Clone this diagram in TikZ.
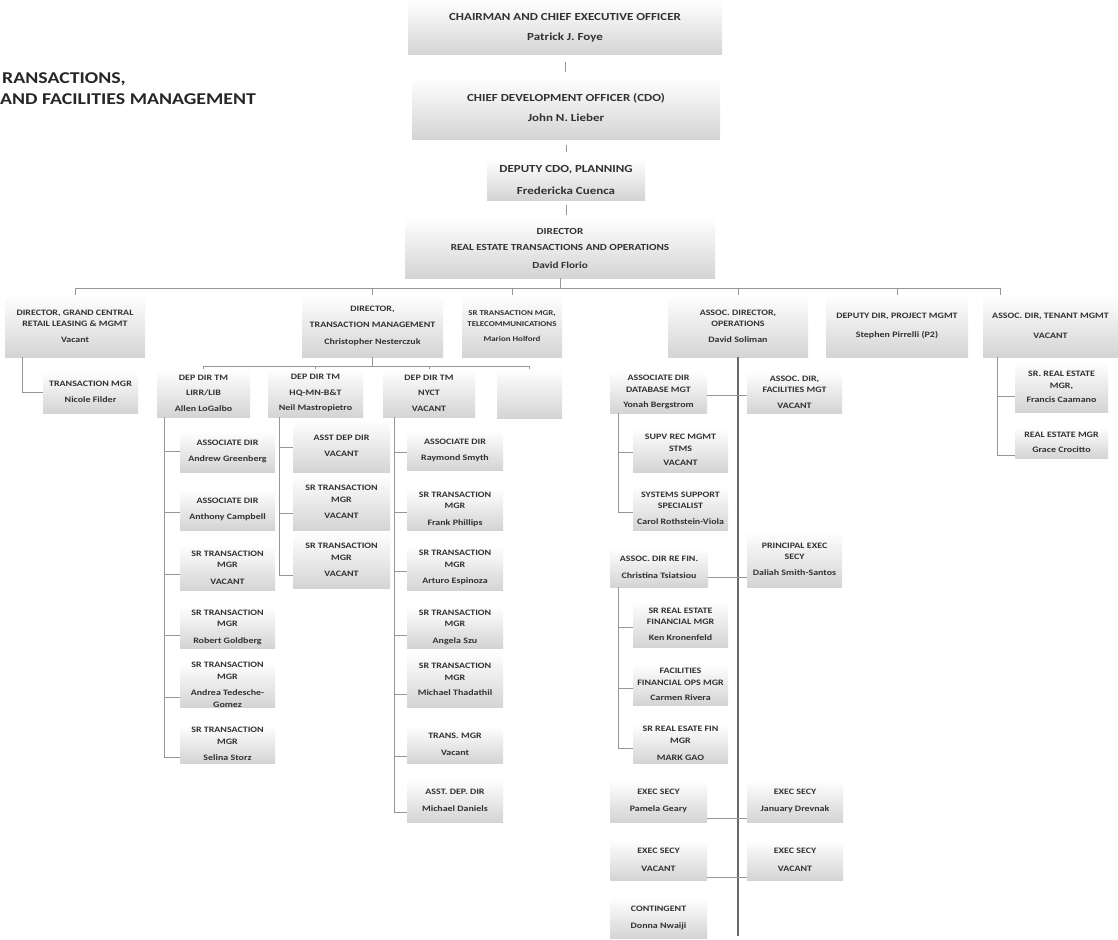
\documentclass[tikz,border=0pt]{standalone}
\usepackage{fontspec}
\setmainfont{Carlito}[FakeStretch=1.2]
\usetikzlibrary{calc}
\definecolor{boxg}{RGB}{212,212,212}
\definecolor{linec}{RGB}{150,150,150}
\definecolor{txtc}{RGB}{50,50,50}
\definecolor{mainl}{RGB}{105,105,105}
\newcommand\orgbox[7]{%
  \node[bx,#6,minimum width={(#3-#2)*1pt},minimum height={(#5-#4)*1pt}] (#1) at ({(#2+#3)/2},{(#4+#5)/2}) {#7};}
\tikzset{
  bx/.style={shading=axis, top color=white, bottom color=boxg, inner sep=0pt, align=center,
    text=txtc, font=\bfseries\fontsize{8.3}{11.5}\selectfont},
  big/.style={font=\bfseries\fontsize{10.8}{13}\selectfont},
  mid/.style={font=\bfseries\fontsize{9.3}{12}\selectfont},
  sm/.style={font=\bfseries\fontsize{7.4}{11}\selectfont},
  conn/.style={draw=linec, line width=0.7pt},
  mainline/.style={draw=mainl, line width=1.3pt},
  ttl/.style={inner sep=0pt, text=black!85, font=\bfseries\fontsize{16.5}{18}\selectfont}
}
\begin{document}
\begin{tikzpicture}[x=1pt,y=-1pt]
\useasboundingbox (0,0) rectangle (1118,939);
\fill[white] (0,0) rectangle (1118,939);
% title
\node[ttl,anchor=base west] (t1) at (2,84) {RANSACTIONS,};
\node[ttl,anchor=base west] (t2) at (0,105) {AND FACILITIES MANAGEMENT};
% top chain
\orgbox{chair}{408}{722}{0}{55}{big}{CHAIRMAN AND CHIEF EXECUTIVE OFFICER\\[7pt]Patrick J. Foye}
\orgbox{cdo}{412}{720}{77}{139}{big}{CHIEF DEVELOPMENT OFFICER (CDO)\\[7pt]John N. Lieber}
\orgbox{dep}{487}{645}{159}{200}{big}{DEPUTY CDO, PLANNING\\[9pt]Fredericka Cuenca}
\orgbox{dir}{405}{715}{218}{278}{mid}{DIRECTOR\\[4pt]REAL ESTATE TRANSACTIONS AND OPERATIONS\\[6pt]David Florio}
\draw[conn, shorten <=7pt, shorten >=5pt] (chair.south) -- (chair.south |- cdo.north);
\draw[conn, shorten <=6pt, shorten >=7pt] (cdo.south) -- (cdo.south |- dep.north);
\draw[conn, shorten <=5pt, shorten >=3pt] (dep.south) -- (dep.south |- dir.north);
% row 2
\orgbox{gc}{5}{145}{295}{357}{}{DIRECTOR, GRAND CENTRAL\\RETAIL LEASING \& MGMT\\[4pt]Vacant}
\orgbox{tm}{302}{443}{295}{357}{}{DIRECTOR,\\[4pt]TRANSACTION MANAGEMENT\\[6pt]Christopher Nesterczuk}
\orgbox{tel}{462}{562}{295}{357}{sm}{SR TRANSACTION MGR,\\TELECOMMUNICATIONS\\[4pt]Marion Holford}
\orgbox{ops}{668}{808}{295}{357}{}{ASSOC. DIRECTOR,\\OPERATIONS\\[4pt]David Soliman}
\orgbox{pm}{826}{968}{295}{357}{}{DEPUTY DIR, PROJECT MGMT\\[8pt]Stephen Pirrelli (P2)}
\orgbox{ten}{983}{1118}{295}{357}{}{ASSOC. DIR, TENANT MGMT\\[8pt]VACANT}
% bus
\coordinate (bL) at (75,288);
\coordinate (bR) at (1000,288);
\draw[conn] (bL) -- (bR);
\draw[conn] (dir.south) -- (dir.south |- bL);
\draw[conn] (bL) -- (gc.north);
\draw[conn] (tm.north |- bL) -- (tm.north);
\draw[conn] (tel.north |- bL) -- (tel.north);
\draw[conn] (ops.north |- bL) -- (ops.north);
\draw[conn] (pm.north |- bL) -- (pm.north);
\draw[conn] (bR) -- (bR |- ten.north);
% grand central sub
\orgbox{tmgr}{43}{138}{371}{413}{}{TRANSACTION MGR\\[5pt]Nicole Filder}
\coordinate (gv) at ([xshift=18pt]gc.south west);
\draw[conn] (gv) |- (tmgr.west);
% TM sub
\orgbox{lirr}{157}{250}{369}{417}{}{DEP DIR TM\\[4pt]LIRR/LIB\\[4pt]Allen LoGalbo}
\orgbox{hq}{268}{363}{369}{417}{}{DEP DIR TM\\[4pt]HQ-MN-B\&T\\[4pt]Neil Mastropietro}
\orgbox{nyct}{383}{475}{369}{417}{}{DEP DIR TM\\[4pt]NYCT\\[4pt]VACANT}
\orgbox{blank}{497}{562}{369}{418}{}{}
\coordinate (tmb) at ([yshift=-9pt]tm.south);
\draw[conn] (tm.south) -- (tmb);
\draw[conn] (lirr.north) |- (tmb) -| (blank.north);
\draw[conn] (hq.north) -- (hq.north |- tmb);
\draw[conn] (nyct.north) -- (nyct.north |- tmb);
% LIRR column
\orgbox{a1}{180}{275}{431}{472}{}{ASSOCIATE DIR\\[5pt]Andrew Greenberg}
\orgbox{a2}{180}{275}{489}{530}{}{ASSOCIATE DIR\\[5pt]Anthony Campbell}
\orgbox{a3}{180}{275}{545}{590}{}{SR TRANSACTION\\MGR\\[5pt]VACANT}
\orgbox{a4}{180}{275}{606}{648}{}{SR TRANSACTION\\MGR\\[5pt]Robert Goldberg}
\orgbox{a5}{180}{275}{663}{707}{}{SR TRANSACTION\\MGR\\[5pt]Andrea Tedesche-\\Gomez}
\orgbox{a6}{180}{275}{725}{763}{}{SR TRANSACTION\\MGR\\[5pt]Selina Storz}
\coordinate (lv) at ([xshift=8pt]lirr.south west);
\path ([yshift=0pt]a1.west) coordinate (a1w) ([yshift=-3pt]a2.west) coordinate (a2w)
      ([yshift=-7pt]a3.west) coordinate (a3w) ([yshift=-8pt]a4.west) coordinate (a4w)
      ([yshift=-12pt]a5.west) coordinate (a5w) ([yshift=-13pt]a6.west) coordinate (a6w);
\draw[conn] (lv) |- (a6w);
\foreach \c in {a1w,a2w,a3w,a4w,a5w} \draw[conn] (lv |- \c) -- (\c);
% HQ column
\orgbox{h1}{293}{390}{420}{472}{}{ASST DEP DIR\\[5pt]VACANT}
\orgbox{h2}{293}{390}{474}{530}{}{SR TRANSACTION\\MGR\\[5pt]VACANT}
\orgbox{h3}{293}{390}{532}{588}{}{SR TRANSACTION\\MGR\\[5pt]VACANT}
\coordinate (hv) at ([xshift=12pt]hq.south west);
\path ([yshift=-1pt]h1.west) coordinate (h1w) ([yshift=-11pt]h2.west) coordinate (h2w)
      ([yshift=-15pt]h3.west) coordinate (h3w);
\draw[conn] (hv) |- (h3w);
\foreach \c in {h1w,h2w} \draw[conn] (hv |- \c) -- (\c);
% NYCT column
\orgbox{n1}{407}{503}{431}{470}{}{ASSOCIATE DIR\\[5pt]Raymond Smyth}
\orgbox{n2}{407}{503}{488}{530}{}{SR TRANSACTION\\MGR\\[5pt]Frank Phillips}
\orgbox{n3}{407}{503}{545}{590}{}{SR TRANSACTION\\MGR\\[5pt]Arturo Espinoza}
\orgbox{n4}{407}{503}{606}{648}{}{SR TRANSACTION\\MGR\\[5pt]Angela Szu}
\orgbox{n5}{407}{503}{652}{707}{}{SR TRANSACTION\\MGR\\[4pt]Michael Thadathil}
\orgbox{n6}{407}{503}{726}{763}{}{TRANS. MGR\\[5pt]Vacant}
\orgbox{n7}{407}{503}{779}{822}{}{ASST. DEP. DIR\\[5pt]Michael Daniels}
\coordinate (nv) at ([xshift=12pt]nyct.south west);
\path ([yshift=-2pt]n1.west) coordinate (n1w) ([yshift=-3pt]n2.west) coordinate (n2w)
      ([yshift=-4pt]n3.west) coordinate (n3w) ([yshift=-8pt]n4.west) coordinate (n4w)
      ([yshift=-15pt]n5.west) coordinate (n5w) ([yshift=-12pt]n6.west) coordinate (n6w)
      ([yshift=-12pt]n7.west) coordinate (n7w);
\draw[conn] (nv) |- (n7w);
\foreach \c in {n1w,n2w,n3w,n4w,n5w,n6w} \draw[conn] (nv |- \c) -- (\c);
% operations
\orgbox{yon}{610}{707}{371}{413}{}{ASSOCIATE DIR\\DATABASE MGT\\[4pt]Yonah Bergstrom}
\orgbox{fac}{747}{842}{371}{413}{}{ASSOC. DIR,\\FACILITIES MGT\\[4pt]VACANT}
\orgbox{s1}{633}{728}{428}{472}{}{SUPV REC MGMT\\STMS\\[3pt]VACANT}
\orgbox{s2}{633}{728}{486}{530}{}{SYSTEMS SUPPORT\\SPECIALIST\\[4pt]Carol Rothstein-Viola}
\orgbox{chr}{610}{708}{548}{587}{}{ASSOC. DIR RE FIN.\\[5pt]Christina Tsiatsiou}
\orgbox{dal}{747}{842}{531}{587}{}{PRINCIPAL EXEC\\SECY\\[4pt]Daliah Smith-Santos}
\orgbox{k1}{633}{728}{601}{647}{}{SR REAL ESTATE\\FINANCIAL MGR\\[4pt]Ken Kronenfeld}
\orgbox{k2}{633}{728}{664}{705}{}{FACILITIES\\FINANCIAL OPS MGR\\[4pt]Carmen Rivera}
\orgbox{k3}{633}{728}{724}{763}{}{SR REAL ESATE FIN\\MGR\\[6pt]MARK GAO}
\orgbox{es1}{610}{707}{780}{822}{}{EXEC SECY\\[5pt]Pamela Geary}
\orgbox{es2}{747}{843}{780}{822}{}{EXEC SECY\\[5pt]January Drevnak}
\orgbox{es3}{610}{707}{840}{880}{}{EXEC SECY\\[6pt]VACANT}
\orgbox{es4}{747}{843}{840}{880}{}{EXEC SECY\\[6pt]VACANT}
\orgbox{cont}{610}{707}{898}{938}{}{CONTINGENT\\[6pt]Donna Nwaiji}
\coordinate (oend) at (738,936);
\draw[mainline] (ops.south) -- (ops.south |- oend);
\coordinate (yf) at ([yshift=-3pt]yon.east);
\draw[conn] (yf) -- (fac.west |- yf);
\coordinate (cd) at ([yshift=-9.5pt]chr.east);
\draw[conn] (cd) -- (dal.west |- cd);
\coordinate (e12) at ([yshift=-17pt]es1.east);
\draw[conn] (e12) -- (es2.west |- e12);
\coordinate (e34) at ([yshift=-17pt]es3.east);
\draw[conn] (e34) -- (es4.west |- e34);
\coordinate (yv) at ([xshift=9pt]yon.south west);
\path ([yshift=-2pt]s1.west) coordinate (s1w) ([yshift=-4pt]s2.west) coordinate (s2w);
\draw[conn] (yv) |- (s2w);
\draw[conn] (yv |- s1w) -- (s1w);
\coordinate (cv) at ([xshift=9pt]chr.south west);
\path ([yshift=-3pt]k1.west) coordinate (k1w) ([yshift=-3.5pt]k2.west) coordinate (k2w)
      ([yshift=-4.5pt]k3.west) coordinate (k3w);
\draw[conn] (cv) |- (k3w);
\foreach \c in {k1w,k2w} \draw[conn] (cv |- \c) -- (\c);
% tenant
\orgbox{r1}{1015}{1108}{362}{412}{}{SR. REAL ESTATE\\MGR,\\[3pt]Francis Caamano}
\orgbox{r2}{1015}{1108}{427}{458}{}{REAL ESTATE MGR\\[3pt]Grace Crocitto}
\coordinate (tv) at ([xshift=15pt]ten.south west);
\path ([yshift=-9pt]r1.west) coordinate (r1w) ([yshift=-12.5pt]r2.west) coordinate (r2w);
\draw[conn] (tv) |- (r2w);
\draw[conn] (tv |- r1w) -- (r1w);
\end{tikzpicture}
\end{document}
